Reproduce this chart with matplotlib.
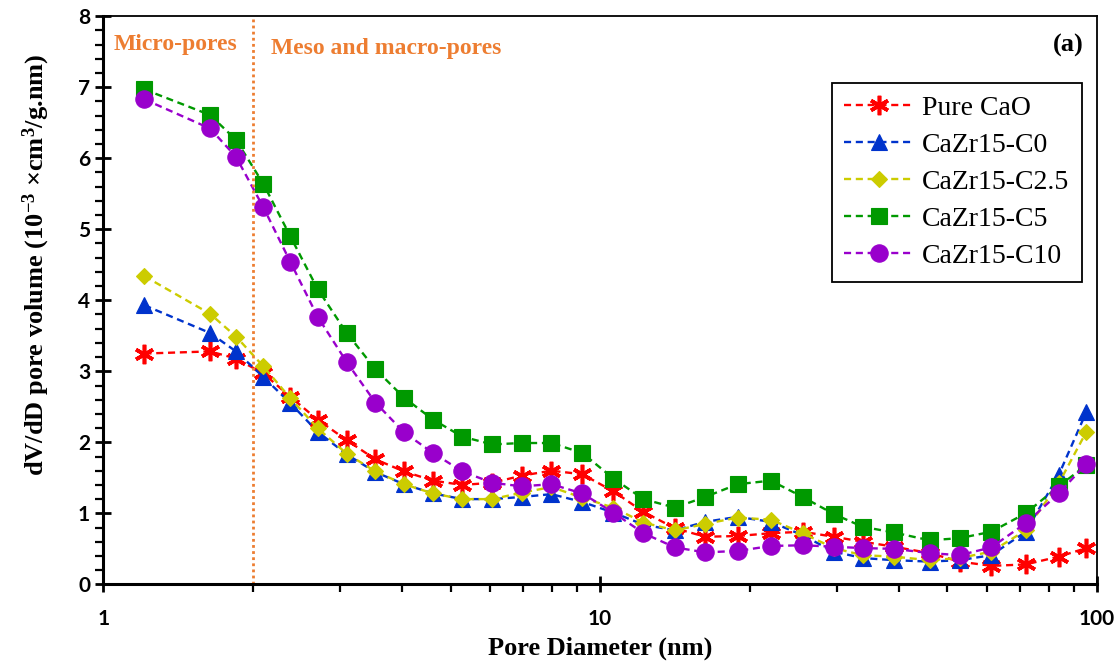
import numpy as np
import matplotlib
matplotlib.use("Agg")
import matplotlib.pyplot as plt
from matplotlib.ticker import LogLocator, NullFormatter, MultipleLocator, FixedLocator

# BJH pore size distribution data (dV/dD, 10^-3 cm3/g.nm)
diameter = [1.21, 1.64, 1.85, 2.10, 2.38, 2.70, 3.09, 3.53, 4.03, 4.61, 5.28,
            6.07, 6.95, 7.98, 9.21, 10.64, 12.23, 14.15, 16.28, 18.92, 22.08,
            25.59, 29.55, 33.8, 39.03, 46.06, 52.95, 61.33, 71.93, 83.83, 95.33]

pure_cao = [3.25, 3.28, 3.18, 2.97, 2.64, 2.32, 2.03, 1.76, 1.59, 1.46, 1.40,
            1.43, 1.53, 1.60, 1.55, 1.31, 1.02, 0.79, 0.67, 0.68, 0.72,
            0.74, 0.67, 0.60, 0.53, 0.44, 0.32, 0.26, 0.28, 0.39, 0.51]
cazr_c0 = [3.93, 3.54, 3.28, 2.92, 2.55, 2.15, 1.83, 1.58, 1.41, 1.28, 1.20,
           1.20, 1.23, 1.27, 1.16, 1.01, 0.84, 0.76, 0.88, 0.95, 0.88,
           0.69, 0.46, 0.37, 0.34, 0.32, 0.34, 0.41, 0.74, 1.54, 2.43]
cazr_c25 = [4.34, 3.81, 3.49, 3.07, 2.62, 2.20, 1.84, 1.59, 1.41, 1.28, 1.20,
            1.20, 1.29, 1.37, 1.22, 1.08, 0.87, 0.76, 0.85, 0.94, 0.91,
            0.72, 0.51, 0.41, 0.39, 0.34, 0.37, 0.46, 0.76, 1.42, 2.15]
cazr_c5 = [6.97, 6.61, 6.26, 5.64, 4.90, 4.16, 3.54, 3.03, 2.63, 2.32, 2.08,
           1.97, 1.99, 1.99, 1.85, 1.49, 1.20, 1.08, 1.23, 1.41, 1.46,
           1.23, 0.99, 0.81, 0.73, 0.62, 0.65, 0.74, 1.00, 1.38, 1.68]
cazr_c10 = [6.83, 6.42, 6.02, 5.31, 4.54, 3.77, 3.13, 2.56, 2.14, 1.85, 1.59,
            1.43, 1.38, 1.41, 1.28, 1.01, 0.72, 0.52, 0.45, 0.47, 0.54,
            0.55, 0.53, 0.51, 0.50, 0.44, 0.41, 0.52, 0.86, 1.28, 1.70]

labels = ["Pure CaO", "CaZr15-C0", "CaZr15-C2.5", "CaZr15-C5", "CaZr15-C10"]
series = [pure_cao, cazr_c0, cazr_c25, cazr_c5, cazr_c10]
colors = ["#FF0000", "#0033CC", "#CCCC00", "#009900", "#9900CC"]
markers = [(6, 2, 0), "^", "D", "s", "o"]
msizes = [14, 12, 8.5, 11, 12.5]

serif = "Liberation Serif"
orange = "#ED7D31"

plt.rcParams["mathtext.fontset"] = "custom"
plt.rcParams["mathtext.rm"] = serif + ":bold"
plt.rcParams["mathtext.it"] = serif + ":bold:italic"
plt.rcParams["mathtext.bf"] = serif + ":bold"
plt.rcParams["mathtext.default"] = "rm"

fig = plt.figure(figsize=(11.18, 6.64), dpi=100)
ax = fig.add_axes([0.0924, 0.12, 0.8886, 0.8555])

for y, lab, c, m, ms in zip(series, labels, colors, markers, msizes):
    ax.plot(diameter, y, linestyle=(0, (3, 2)), lw=1.7, color=c, marker=m,
            markersize=ms, markeredgewidth=2.6 if lab == "Pure CaO" else 0.8,
            markeredgecolor=c, markerfacecolor=c, label=lab)

ax.set_xscale("log")
ax.set_xlim(1, 100)
ax.set_ylim(0, 8)

# micro / meso boundary
ax.axvline(2, color=orange, lw=2, linestyle=(0, (1, 1.2)))
ax.text(1.05, 7.6, "Micro-pores", color=orange, fontsize=17,
        fontweight="bold", family=serif, va="center")
ax.text(2.18, 7.55, "Meso and macro-pores", color=orange, fontsize=17,
        fontweight="bold", family=serif, va="center")
ax.text(0.987, 0.948, "(a)", transform=ax.transAxes, ha="right", va="center",
        fontsize=19, fontweight="bold", family=serif)

# ticks
ax.xaxis.set_major_locator(FixedLocator([1, 10, 100]))
ax.xaxis.set_minor_locator(LogLocator(base=10, subs=np.arange(2, 10)))
ax.xaxis.set_minor_formatter(NullFormatter())
ax.set_xticklabels(["1", "10", "100"])
ax.yaxis.set_major_locator(MultipleLocator(1))
ax.yaxis.set_minor_locator(MultipleLocator(0.2))
ax.tick_params(which="major", direction="inout", length=12, width=2)
ax.tick_params(which="minor", direction="out", length=6, width=1.6)
ax.tick_params(axis="x", which="major", pad=12)
for lbl in ax.get_xticklabels() + ax.get_yticklabels():
    lbl.set_fontfamily("Lato")
    lbl.set_fontweight("bold")
    lbl.set_fontsize(15)

for side in ["left", "bottom"]:
    ax.spines[side].set_linewidth(2.2)
for side in ["top", "right"]:
    ax.spines[side].set_linewidth(1.3)

ax.set_xlabel("Pore Diameter (nm)", fontsize=19, fontweight="bold",
              family=serif, labelpad=5)
ax.set_ylabel("dV/dD pore volume (10$^{-3}$ \u00d7cm$^3$/g.nm)", fontsize=19,
              fontweight="bold", family=serif)
ax.yaxis.set_label_coords(-0.052, 0.562)

leg = ax.legend(loc="upper right", bbox_to_anchor=(0.985, 0.883),
                prop={"family": serif, "size": 20}, handlelength=2.5,
                handletextpad=0.3, labelspacing=0.42, borderpad=0.45,
                borderaxespad=0, fancybox=False, edgecolor="black",
                framealpha=1)
leg.get_frame().set_linewidth(1.3)

fig.savefig("out.png", dpi=100)
